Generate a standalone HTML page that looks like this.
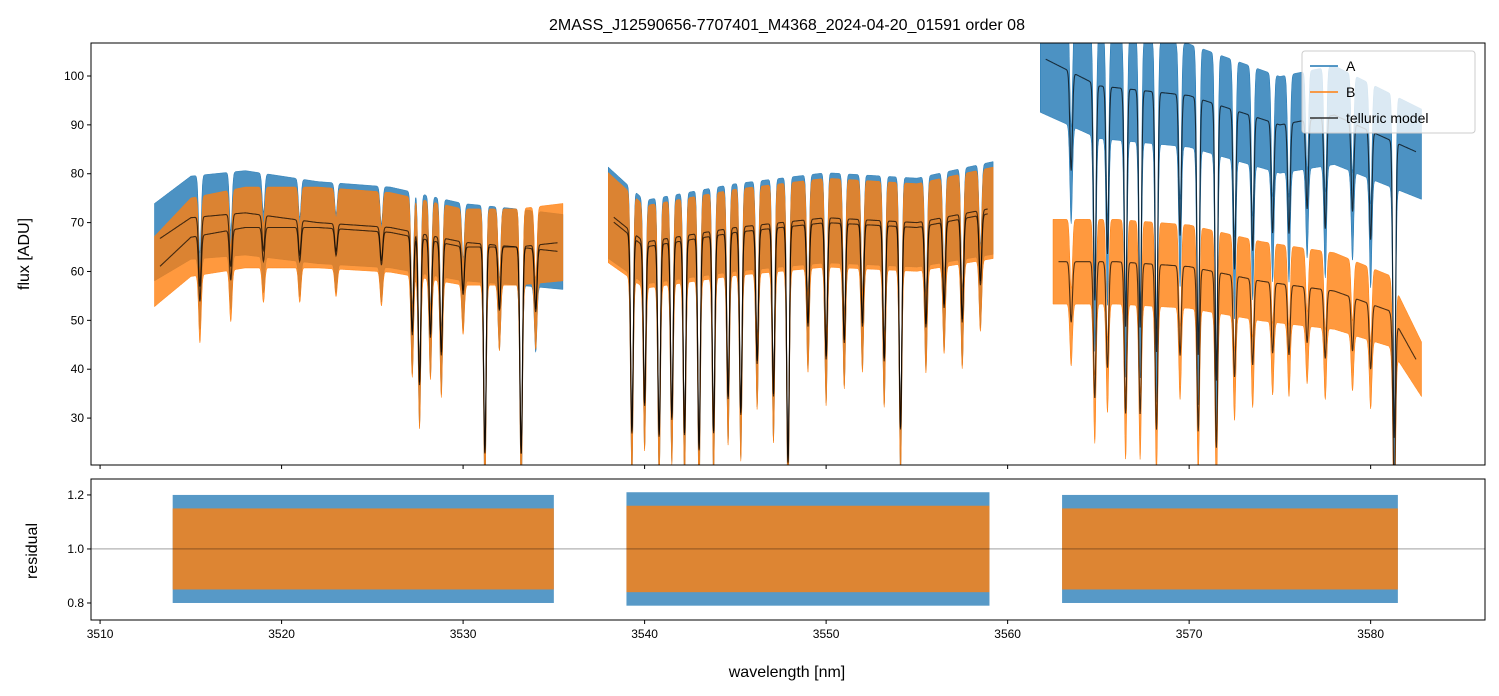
<!DOCTYPE html>
<html><head><meta charset="utf-8"><style>
body{margin:0;background:#fff;}
svg{display:block;font-family:"Liberation Sans","DejaVu Sans",sans-serif;}
</style></head><body>
<svg id="chart" width="1499" height="696" viewBox="0 0 1499 696"></svg>
<script>
// ---- data ----
const xTicks=[3510,3520,3530,3540,3550,3560,3570,3580];
const yTicksTop=[30,40,50,60,70,80,90,100];
const yTicksBot=[0.8,1.0,1.2];
const segWl=[[3513,3535.5],[3538,3559.2],[3561.8,3582.8]];
const contAWl=[3513,3515,3518,3522,3526,3530,3533,3535.5, 3538,3540,3545,3550,3555,3559.2, 3561.8,3565,3570,3575,3578,3582.8];
const contA  =[66,71,72,70,69,66,65,64, 72,66,69,71,70,73, 104,98,96,90,92,84];
const contBWl=[3513,3515,3518,3522,3526,3530,3533,3535.5, 3538,3540,3545,3550,3555,3559.2, 3562.5,3566,3570,3574,3578,3581,3582.8];
const contB  =[60,67,69,69,68,65,65,66, 71,65,68,70,69,72, 62,62,61,58,56,52,40];
const noiseA=[0.12,0.13,0.11];
const noiseB=[0.12,0.13,0.14];
const lineWl=[3515.5,3517.2,3519,3521,3523,3525.5,3527.2,3527.6,3528.2,3528.8,3530,3531.2,3532,3533.2,3534,
3539.3,3540,3540.8,3541.5,3542.2,3543,3543.8,3544.6,3545.3,3546.2,3547.1,3547.9,3549,3550,3551,3552,3553.2,3554.1,3555.5,3556.5,3557.5,3558.5,
3563.5,3564.8,3565.5,3566.5,3567.3,3568.2,3569.5,3570.5,3571.5,3572.5,3573.5,3574.6,3575.5,3576.5,3577.5,3579,3580,3581.3];
const lineDepth=[0.2,0.15,0.1,0.1,0.08,0.1,0.3,0.45,0.3,0.35,0.15,0.65,0.2,0.65,0.2,
0.6,0.5,0.6,0.55,0.6,0.65,0.6,0.5,0.55,0.4,0.5,0.7,0.3,0.4,0.35,0.3,0.4,0.6,0.3,0.25,0.3,0.2,
0.2,0.45,0.35,0.5,0.5,0.55,0.3,0.55,0.6,0.35,0.3,0.25,0.25,0.2,0.25,0.2,0.25,0.7];
const resSegWl=[[3514,3535],[3539,3559],[3563,3581.5]];
const resNoiseA=[0.2,0.21,0.2];
const resNoiseB=[0.15,0.16,0.15];

// ---- axes ----
const L=91,R=1485,T1=43,B1=465,T2=479,B2=620;
const X0=3509.5,X1=3586.3;
const x=v=>L+(v-X0)/(X1-X0)*(R-L);
const yT=v=>T1+(106.75-v)/(106.75-20.4)*(B1-T1);
const yB=v=>T2+(1.259-v)/(1.259-0.737)*(B2-T2);
const svg=document.getElementById('chart');
const NS='http://www.w3.org/2000/svg';
function mk(tag,attrs,parent){const e=document.createElementNS(NS,tag);for(const k in attrs)e.setAttribute(k,attrs[k]);(parent||svg).appendChild(e);return e;}
function interp(ws,vs,w){if(w<=ws[0])return vs[0];for(let i=1;i<ws.length;i++){if(w<=ws[i]){const t=(w-ws[i-1])/(ws[i]-ws[i-1]);return vs[i-1]+t*(vs[i]-vs[i-1]);}}return vs[vs.length-1];}
function trans(w){let f=1;for(let i=0;i<lineWl.length;i++){const d=(w-lineWl[i])/0.07;if(Math.abs(d)<5)f*=1-lineDepth[i]*Math.exp(-0.5*d*d);}return f;}

const defs=mk('defs',{});
const c1=mk('clipPath',{id:'c1'},defs);mk('rect',{x:L,y:T1,width:R-L,height:B1-T1},c1);
const c2=mk('clipPath',{id:'c2'},defs);mk('rect',{x:L,y:T2,width:R-L,height:B2-T2},c2);

const g1=mk('g',{'clip-path':'url(#c1)'});

function band(parent,seg,cw,cv,n,color,name){
  const up=[],lo=[];
  for(let w=seg[0];w<=seg[1];w+=0.02){const m=interp(cw,cv,w)*trans(w);up.push(x(w).toFixed(1)+','+yT(m*(1+n)).toFixed(1));lo.push(x(w).toFixed(1)+','+yT(m*(1-n)-(1-trans(w))*10).toFixed(1));}
  const p=mk('polygon',{points:up.concat(lo.reverse()).join(' '),fill:color,'fill-opacity':0.8,stroke:color,'stroke-width':0.5},parent);
  
}
function model(parent,seg,cw,cv,name){
  const pts=[];for(let w=seg[0]+0.3;w<=seg[1]-0.3;w+=0.02){pts.push(x(w).toFixed(1)+','+yT(interp(cw,cv,w)*trans(w)).toFixed(1));}
  const p=mk('polyline',{points:pts.join(' '),fill:'none',stroke:'#000','stroke-opacity':0.7,'stroke-width':1.1},parent);
  
}
segWl.forEach((s,i)=>band(g1,s,contAWl,contA,noiseA[i],'#1f77b4','series-a-flux'));
segWl.forEach((s,i)=>band(g1,[i==2?3562.5:s[0],s[1]],contBWl,contB,noiseB[i],'#ff7f0e','series-b-flux'));
segWl.forEach((s,i)=>{model(g1,s,contAWl,contA,'telluric-model-a');model(g1,[i==2?3562.5:s[0],s[1]],contBWl,contB,'telluric-model-b');});

const g2=mk('g',{'clip-path':'url(#c2)'});

function rband(seg,n,color,op,name){
  const r=mk('rect',{x:x(seg[0]),y:yB(1+n),width:x(seg[1])-x(seg[0]),height:yB(1-n)-yB(1+n),fill:color,'fill-opacity':op},g2);
  
}
resSegWl.forEach((s,i)=>rband(s,resNoiseA[i],'#1f77b4',0.75,'residual-a'));
resSegWl.forEach((s,i)=>rband(s,resNoiseB[i],'#ff7f0e',0.8,'residual-b'));
const hl=mk('line',{x1:L,x2:R,y1:yB(1),y2:yB(1),stroke:'#000','stroke-opacity':0.6,'stroke-width':0.7});


// frames & ticks
[[T1,B1],[T2,B2]].forEach(([t,b],k)=>{
  const f=mk('rect',{x:L,y:t,width:R-L,height:b-t,fill:'none',stroke:'#000','stroke-width':1});
  
  xTicks.forEach(v=>{mk('line',{x1:x(v),x2:x(v),y1:b,y2:b+4,stroke:'#000'});
    if(k){const tx=mk('text',{x:x(v),y:b+18,'font-size':12,'text-anchor':'middle'});tx.textContent=v;}});
});
yTicksTop.forEach(v=>{mk('line',{x1:L-4,x2:L,y1:yT(v),y2:yT(v),stroke:'#000'});
  const t=mk('text',{x:L-7,y:yT(v)+4,'font-size':12,'text-anchor':'end'});t.textContent=v;});
yTicksBot.forEach(v=>{mk('line',{x1:L-4,x2:L,y1:yB(v),y2:yB(v),stroke:'#000'});
  const t=mk('text',{x:L-7,y:yB(v)+4,'font-size':12,'text-anchor':'end'});t.textContent=v.toFixed(1);});
</script>
<svg style="position:absolute;left:0;top:0" width="1499" height="696">
<text x="787" y="30" font-size="16" text-anchor="middle" font-family="Liberation Sans,sans-serif">2MASS_J12590656-7707401_M4368_2024-04-20_01591  order 08</text>
<text transform="translate(29,254) rotate(-90)" font-size="16" text-anchor="middle" font-family="Liberation Sans,sans-serif">flux [ADU]</text>
<text transform="translate(37,551) rotate(-90)" font-size="16" text-anchor="middle" font-family="Liberation Sans,sans-serif">residual</text>
<text x="787" y="677" font-size="16" text-anchor="middle" font-family="Liberation Sans,sans-serif">wavelength [nm]</text>
<g font-family="Liberation Sans,sans-serif" font-size="14">
<rect x="1302" y="51" width="173" height="82" rx="3" fill="#fff" fill-opacity="0.8" stroke="#ccc"/>
<line x1="1310" x2="1338" y1="66" y2="66" stroke="#1f77b4" stroke-width="1.5"/><text x="1346" y="71">A</text>
<line x1="1310" x2="1338" y1="92" y2="92" stroke="#ff7f0e" stroke-width="1.5"/><text x="1346" y="97">B</text>
<line x1="1310" x2="1338" y1="118" y2="118" stroke="#333" stroke-width="1.5"/><text x="1346" y="123">telluric model</text>
</g>
</svg>
</body></html>
